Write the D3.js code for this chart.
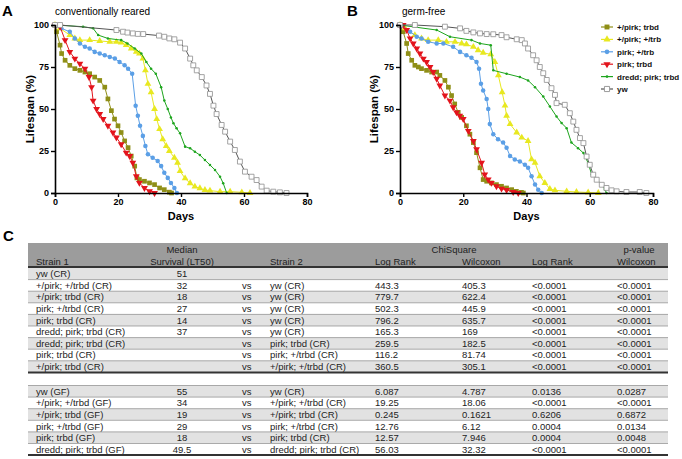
<!DOCTYPE html>
<html><head><meta charset="utf-8">
<script src="https://cdn.jsdelivr.net/npm/d3@7"></script>
<style>body{margin:0;background:#fff}svg{display:block}text{font-family:"Liberation Sans",Arial,sans-serif}</style>
</head><body><svg id="c" width="682" height="459"></svg>
<script>
// ---------- data ----------
const legendLabels = ["+/pirk; trbd", "+/pirk; +/trb", "pirk; +/trb", "pirk; trbd", "dredd; pirk; trbd", "yw"];
const xTicks = [0, 20, 40, 60, 80];
const yTicks = [0, 25, 50, 75, 100];

// Panel A: conventionally reared  [day, % alive]
const crPlusPirkTrbd = [[0,100],[0.5,96],[1.6,88],[2.1,83],[3.2,79],[4.7,76],[6.3,74],[7.9,73],[9.5,72],[11,71],[12.6,69],[14.2,67],[15.8,63],[16.8,56],[17.9,49],[18.9,44],[20,40],[21,36],[22.1,31],[23.2,27],[24.2,22],[25.3,16],[26,9],[26.8,8],[28.4,7],[30,6],[31.6,5],[33.2,3],[34.7,2],[36.3,0.5],[37,0]];
const crPlusPirkPlusTrbd = [[0,100],[1.6,98],[4.7,94],[6.3,92],[7.9,91],[11,91],[14.2,90.5],[17.4,90],[19.5,90],[21,89.5],[22.6,88],[24.2,86],[25.8,84],[26.8,83],[27.9,80],[28.7,73],[29.5,65],[30.5,60],[31.6,50],[32.3,44],[33.2,38],[34.2,32],[35.3,28],[36.3,25],[37.9,21],[38.9,18],[39.7,13],[41.3,8.7],[42.9,5.8],[44.4,3.8],[46,2.8],[47.6,1.8],[49.2,1.4],[52.4,0.8],[55.6,0.8],[59.3,0.4],[61.9,0]];
const crPirkPlusTrbd = [[0,100],[2,98],[4.7,96],[6.3,92],[7.9,89],[9.5,87],[11,86],[12.6,84],[14.2,83],[15.8,82],[17.4,81],[19,80],[20.5,78],[22.1,76],[23.2,74],[24.5,71],[25.6,52],[26.3,46],[27,40],[27.9,34],[28.7,28],[29.5,23],[31,21],[32.6,19],[33.7,16],[34.7,12],[35.8,9],[36.8,6],[37.9,3],[38.7,0]];
const crPirkTrbd = [[0,100],[1.6,99],[3.2,91],[4.7,84],[6.3,80],[7.9,77],[9.5,74],[10.8,69],[11.6,63],[12.1,55],[13.2,50],[14.2,47],[15.3,44],[16.8,40],[18.4,36],[19.5,33],[21,29],[22.6,24],[23.7,22],[24.7,18],[25.8,10],[26.8,6],[28.4,3],[30,1],[31.6,0]];
const crDreddPirkTrbd = [[0,100],[8.9,99],[12.1,98],[13.7,94],[16.8,92],[21,91],[23,89],[25.3,86],[27.4,83],[29,78],[30.5,74],[32,71],[33.7,63],[34.7,55],[35.8,50],[36.8,45],[37.6,41.5],[38.6,38.5],[39.7,35.5],[41.3,27.6],[42.9,26.6],[44.4,24.6],[46,22.6],[47.6,19.6],[49.2,16.7],[50.8,13.7],[52.4,9.7],[53.4,5.8],[54.5,0]];
const crYw = [[0,100],[1.6,100],[19.5,97],[21.6,96],[23,95.5],[24.7,95],[26.3,94.7],[28,94.6],[33,93.7],[34.7,93],[36.3,92],[37.9,91.5],[39.7,89.5],[41.3,86],[42.9,80],[43.9,76],[45,73],[46.6,69],[48.1,64],[49.2,59],[50.3,52],[51.3,47],[52.9,40.5],[54,36.5],[55.6,30.6],[57.1,25.6],[58.7,18.7],[60.3,12.7],[62.4,9.7],[64,7.7],[65.6,3.8],[67.2,1.4],[69.3,0.8],[71.4,0.4],[73.5,0]];

// Panel B: germ-free
const gfPlusPirkTrbd = [[0,100],[1,96],[2.1,89],[2.6,83],[3.7,79],[4.7,76],[5.8,75],[6.8,74],[8.4,73],[10,72],[11.6,72],[12.6,70],[14.2,67],[15.3,63],[16.3,58],[17.3,53],[18.4,48],[19.5,45],[21,40],[22.1,35],[23.2,30],[24.2,24],[25.3,15],[26.3,8],[27.4,7],[28.9,6],[30.5,5],[32.1,4],[33.7,3],[35.3,2],[36.8,1],[38.4,0.4],[39,0]];
const gfPlusPirkPlusTrbd = [[0,100],[1.6,98],[4.7,94],[6.8,92],[8.9,91],[12.1,91],[14.7,90],[17.4,90],[19.5,89],[21,88.5],[23.2,87],[24.7,85],[26.3,83.5],[28.7,82.5],[30,78],[31.1,70],[32.3,60],[33.2,52],[33.7,46],[34.8,41],[36.9,36],[38.5,33],[40.5,31],[41.6,20],[42.7,18],[44.2,10],[45.8,6],[47.4,2.4],[49,1.6],[52.7,1],[55.8,0.6],[59.5,0.3],[62.7,0]];
const gfPirkPlusTrbd = [[0,100],[3.2,96],[5.3,93],[6.8,92],[8.9,90],[11.6,89],[13.7,89],[16.8,87],[19,84],[21,82],[22.6,80.5],[24.2,78],[25,74],[25.6,65],[26.3,61],[27.4,56],[27.9,50],[28.4,41],[29.5,35],[31,32],[32.6,30],[33.7,27],[34.8,22],[36.3,20],[37.9,18.8],[39.5,16.8],[40.5,15],[41.6,10],[42.7,5],[43.7,2],[44.8,0]];
const gfPirkTrbd = [[0,100],[1,100],[2.1,97],[3.2,92],[4.2,89],[5.3,86],[6.3,83],[7.4,80],[8.4,78],[9.5,75],[10.5,72],[11.6,68],[12.6,64],[14.2,58],[15.8,55],[16.8,51],[17.9,48],[18.9,46],[20,44],[21.6,37],[23.2,31],[24.2,26],[25.8,18],[26.8,11],[27.9,8],[28.9,6],[30.5,4],[32.1,2.6],[33.7,1.8],[35.8,0.6],[37.4,0]];
const gfDreddPirkTrbd = [[0,100],[11.6,97],[15.8,93],[22.6,91],[25.3,89],[28.7,88],[29.5,73],[33.7,71],[37.9,69],[40.5,67],[42.7,63],[45.3,57.4],[47.4,51.5],[49.5,45.5],[51.1,41.6],[52.7,38.6],[54.2,30],[56.3,26.7],[58,23.8],[59.5,17.8],[60.6,11],[62.2,8],[63.8,5],[64.8,2],[65.3,0]];
const gfYw = [[0,100],[4.7,100],[14.2,99],[19,98],[21,96.5],[23.2,95.6],[25.3,95],[27.4,94.6],[29.5,94.5],[32.1,94],[33.7,92.7],[36.9,91.5],[38.5,91],[39.5,89],[40.5,86],[42.1,82],[43.2,79],[44.2,75],[45.3,71.3],[46.4,67.3],[47.9,62.4],[49,58.4],[49.5,53.5],[52.1,52.5],[53.7,47.5],[54.8,42.5],[55.8,37.6],[56.9,32.7],[58,29.7],[59,21.7],[60,16.8],[61.1,10.9],[62.2,7.9],[63.8,4.9],[65.3,3],[66.9,1.6],[68.5,1],[71.6,0.6],[75.8,0.6],[77.9,0]];

// Panel C table
const tableHeader1 = ["", "Median", "", "", "ChiSquare", "", "p-value", ""];
const tableHeader2 = ["Strain 1", "Survival (LT50)", "", "Strain 2", "Log Rank", "Wilcoxon", "Log Rank", "Wilcoxon"];
const crStrain1 = ["yw (CR)", "+/pirk; +/trbd (CR)", "+/pirk; trbd (CR)", "pirk; +/trbd (CR)", "pirk; trbd (CR)", "dredd; pirk; trbd (CR)", "dredd; pirk; trbd (CR)", "pirk; trbd (CR)", "+/pirk; trbd (CR)"];
const crMedian = ["51", "32", "18", "27", "14", "37", "", "", ""];
const crVs = ["", "vs", "vs", "vs", "vs", "vs", "vs", "vs", "vs"];
const crStrain2 = ["", "yw (CR)", "yw (CR)", "yw (CR)", "yw (CR)", "yw (CR)", "pirk; trbd (CR)", "pirk; +/trbd (CR)", "+/pirk; +/trbd (CR)"];
const crChiLogRank = ["", "443.3", "779.7", "502.3", "796.2", "165.3", "259.5", "116.2", "360.5"];
const crChiWilcoxon = ["", "405.3", "622.4", "445.9", "635.7", "169", "182.5", "81.74", "305.1"];
const crPLogRank = ["", "<0.0001", "<0.0001", "<0.0001", "<0.0001", "<0.0001", "<0.0001", "<0.0001", "<0.0001"];
const crPWilcoxon = ["", "<0.0001", "<0.0001", "<0.0001", "<0.0001", "<0.0001", "<0.0001", "<0.0001", "<0.0001"];
const gfStrain1 = ["yw (GF)", "+/pirk; +/trbd (GF)", "+/pirk; trbd (GF)", "pirk; +/trbd (GF)", "pirk; trbd (GF)", "dredd; pirk; trbd (GF)"];
const gfMedian = ["55", "34", "19", "29", "18", "49.5"];
const gfVs = ["vs", "vs", "vs", "vs", "vs", "vs"];
const gfStrain2 = ["yw (CR)", "+/pirk; +/trbd (CR)", "+/pirk; trbd (CR)", "pirk; +/trbd (CR)", "pirk; trbd (CR)", "dredd; pirk; trbd (CR)"];
const gfChiLogRank = ["6.087", "19.25", "0.245", "12.76", "12.57", "56.03"];
const gfChiWilcoxon = ["4.787", "18.06", "0.1621", "6.12", "7.946", "32.32"];
const gfPLogRank = ["0.0136", "<0.0001", "0.6206", "0.0004", "0.0004", "<0.0001"];
const gfPWilcoxon = ["0.0287", "<0.0001", "0.6872", "0.0134", "0.0048", "<0.0001"];

// ---------- styles ----------
const styles = [
  {color:"#8f8f17", stroke:"#8f8f17", sym:d3.symbolSquare, size:22, fill:"#8f8f17", rot:0},
  {color:"#e8e820", stroke:"#e8e820", sym:d3.symbolTriangle, size:20, fill:"#e8e820", rot:0},
  {color:"#5b9fe6", stroke:"#5b9fe6", sym:d3.symbolCircle, size:16, fill:"#5b9fe6", rot:0},
  {color:"#e3141c", stroke:"#e3141c", sym:d3.symbolTriangle, size:20, fill:"#e3141c", rot:180},
  {color:"#1ea51e", stroke:"#1ea51e", sym:d3.symbolCircle, size:5, fill:"#1ea51e", rot:0},
  {color:"#555555", stroke:"#9a9a9a", sym:d3.symbolSquare, size:24, fill:"#ffffff", rot:0}
];
const FONT = '"Liberation Sans",Arial,sans-serif';
const svg = d3.select("#c");

function drawPanel(series, xr, yr, letter, letterX, title, titleX, ylabX) {
  const x = d3.scaleLinear().domain([0, 80]).range(xr);
  const y = d3.scaleLinear().domain([0, 100]).range(yr);
  const g = svg.append("g");
  const line = d3.line().x(d => x(d[0])).y(d => y(d[1]));
  series.forEach((s, i) => {
    const st = styles[i];
    g.append("path").attr("d", line(s)).attr("fill", "none").attr("stroke", st.color).attr("stroke-width", 1);
    g.selectAll(null).data(s).enter().append("path")
      .attr("d", d3.symbol().type(st.sym).size(st.size))
      .attr("transform", d => `translate(${x(d[0])},${y(d[1])}) rotate(${st.rot})`)
      .attr("fill", st.fill).attr("stroke", i === 5 ? st.stroke : "none").attr("stroke-width", 0.9);
  });
  const ax = g.append("g").attr("transform", `translate(0,${yr[0]})`)
    .call(d3.axisBottom(x).tickValues(xTicks).tickSize(4).tickPadding(2).tickFormat(d3.format("d")));
  const ay = g.append("g").attr("transform", `translate(${xr[0]},0)`)
    .call(d3.axisLeft(y).tickValues(yTicks).tickSize(4).tickPadding(2).tickFormat(d3.format("d")));
  [ax, ay].forEach(a => {
    a.select(".domain").attr("stroke", "#000").attr("stroke-width", 1.6);
    a.selectAll(".tick line").attr("stroke", "#000").attr("stroke-width", 1.4);
    a.selectAll(".tick text").attr("font-family", FONT).attr("font-size", 9).attr("font-weight", "bold").attr("fill", "#000");
  });
  g.append("text").attr("x", (xr[0] + xr[1]) / 2).attr("y", yr[0] + 27).attr("text-anchor", "middle")
    .attr("font-size", 11).attr("font-weight", "bold").text("Days");
  g.append("text").attr("transform", `translate(${ylabX},${(yr[0] + yr[1]) / 2}) rotate(-90)`).attr("text-anchor", "middle")
    .attr("font-size", 11.5).attr("font-weight", "bold").text("Lifespan (%)");
  g.append("text").attr("x", letterX).attr("y", 16).attr("font-size", 15).attr("font-weight", "bold").text(letter);
  g.append("text").attr("x", titleX).attr("y", 15).attr("font-size", 10).text(title);
}

drawPanel([crPlusPirkTrbd, crPlusPirkPlusTrbd, crPirkPlusTrbd, crPirkTrbd, crDreddPirkTrbd, crYw],
  [55, 307], [193, 25], "A", 2, "conventionally reared", 55, 34);
drawPanel([gfPlusPirkTrbd, gfPlusPirkPlusTrbd, gfPirkPlusTrbd, gfPirkTrbd, gfDreddPirkTrbd, gfYw],
  [400, 653], [193, 25], "B", 347, "germ-free", 402, 378);

// legend
const lg = svg.append("g");
legendLabels.forEach((lab, i) => {
  const st = styles[i];
  const ly = 27 + i * 12.4;
  lg.append("line").attr("x1", 601).attr("x2", 613).attr("y1", ly).attr("y2", ly).attr("stroke", st.color).attr("stroke-width", 1.2);
  lg.append("path").attr("d", d3.symbol().type(st.sym).size(st.size * 1.1))
    .attr("transform", `translate(607,${ly}) rotate(${st.rot})`)
    .attr("fill", st.fill).attr("stroke", i === 5 ? st.stroke : "none");
  lg.append("text").attr("x", 617).attr("y", ly + 3).attr("font-size", 8).attr("font-weight", "bold").attr("fill", "#111").text(lab);
});

// ---------- table ----------
svg.append("text").attr("x", 3).attr("y", 241).attr("font-size", 15).attr("font-weight", "bold").text("C");
const tL = 28, tR = 668, rowH = 11.6;
const colX = [36, 182, 242, 270, 375, 462, 532, 617];
const colAnchor = ["start", "middle", "start", "start", "start", "start", "start", "start"];
const tg = svg.append("g").attr("font-size", 9.5).attr("fill", "#222");
tg.append("rect").attr("x", tL).attr("y", 243).attr("width", tR - tL).attr("height", 23).attr("fill", "#9c9c9c");
const h1X = [36, 182, 242, 270, 454, 462, 639, 617];
const h1Anchor = ["start", "middle", "start", "start", "middle", "start", "middle", "start"];
tableHeader1.forEach((t, i) => { if (t) tg.append("text").attr("x", h1X[i]).attr("y", 253).attr("text-anchor", h1Anchor[i]).attr("fill", "#222").text(t); });
tableHeader2.forEach((t, i) => { if (t) tg.append("text").attr("x", colX[i]).attr("y", 264.5).attr("text-anchor", colAnchor[i]).attr("fill", "#222").text(t); });
tg.append("line").attr("x1", tL).attr("x2", tR).attr("y1", 267).attr("y2", 267).attr("stroke", "#333").attr("stroke-width", 2);

function drawRows(cols, top) {
  const n = cols[0].length;
  for (let r = 0; r < n; r++) {
    const ry = top + r * rowH;
    tg.append("rect").attr("x", tL).attr("y", ry).attr("width", tR - tL).attr("height", rowH)
      .attr("fill", r % 2 === 0 ? "#e2e2e2" : "#ffffff");
    if (r > 0) tg.append("line").attr("x1", tL).attr("x2", tR).attr("y1", ry).attr("y2", ry).attr("stroke", "#888").attr("stroke-width", 0.7);
    cols.forEach((c, i) => {
      if (c[r]) tg.append("text").attr("x", colX[i]).attr("y", ry + 9.2).attr("text-anchor", colAnchor[i]).attr("fill", "#222").text(c[r]);
    });
  }
  const by = top + n * rowH;
  tg.append("line").attr("x1", tL).attr("x2", tR).attr("y1", by).attr("y2", by).attr("stroke", "#333").attr("stroke-width", 2);
}
drawRows([crStrain1, crMedian, crVs, crStrain2, crChiLogRank, crChiWilcoxon, crPLogRank, crPWilcoxon], 268);
drawRows([gfStrain1, gfMedian, gfVs, gfStrain2, gfChiLogRank, gfChiWilcoxon, gfPLogRank, gfPWilcoxon], 385.5);
tg.append("line").attr("x1", tL).attr("x2", tR).attr("y1", 385.5).attr("y2", 385.5).attr("stroke", "#888").attr("stroke-width", 0.7);
</script></body></html>
